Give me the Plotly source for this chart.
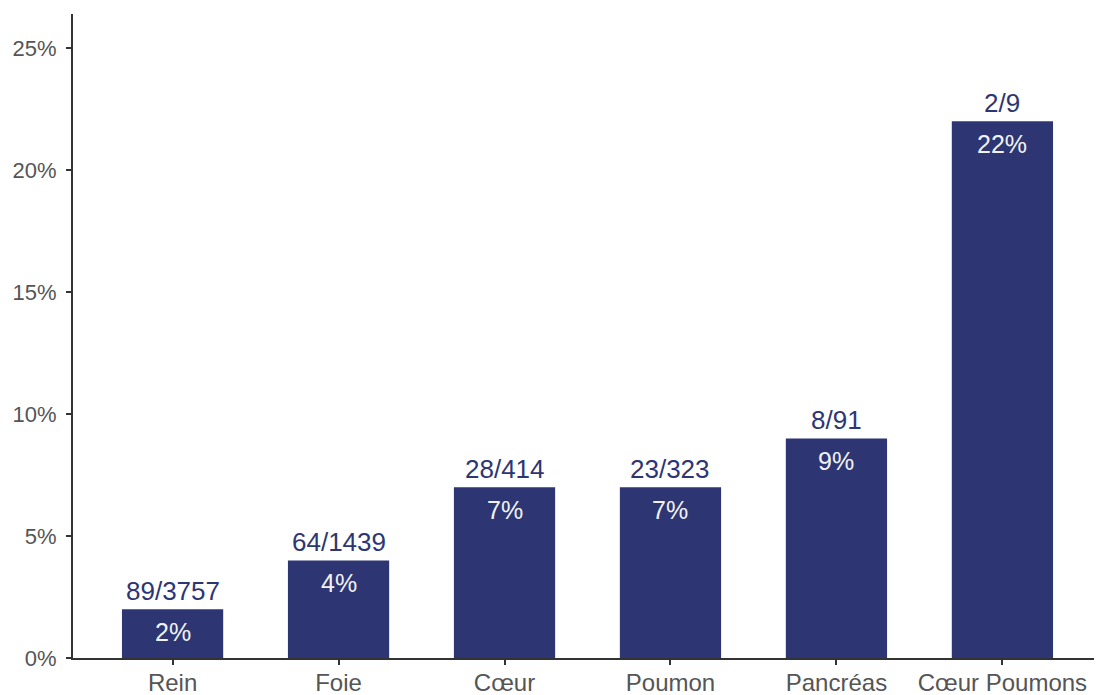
import plotly.graph_objects as go

categories = ["Rein", "Foie", "Cœur", "Poumon", "Pancréas", "Cœur Poumons"]
percent_values = [2, 4, 7, 7, 9, 22]
fraction_labels = ["89/3757", "64/1439", "28/414", "23/323", "8/91", "2/9"]
y_tick_values = [0, 5, 10, 15, 20, 25]
y_tick_labels = ["0%", "5%", "10%", "15%", "20%", "25%"]

bar_color = "#2d3673"
font_family = "Liberation Sans, Arial, sans-serif"

fig = go.Figure()
fig.add_trace(go.Bar(
    x=categories,
    y=percent_values,
    marker=dict(color=bar_color, line=dict(width=0)),
    width=0.61,
    hoverinfo="skip",
))

annotations = []
for cat, val, frac in zip(categories, percent_values, fraction_labels):
    annotations.append(dict(
        x=cat, y=val, text=frac, showarrow=False, xref="x", yref="y",
        yanchor="middle", yshift=18,
        font=dict(family=font_family, size=26, color="#2d3673"),
    ))
    annotations.append(dict(
        x=cat, y=val, text=f"{val}%", showarrow=False, xref="x", yref="y",
        yanchor="middle", yshift=-23,
        font=dict(family=font_family, size=25, color="#f2f2f2"),
    ))

# The page body has an 8px margin, so the figure is reduced by that amount
fig.update_layout(
    width=1094, height=687,
    margin=dict(l=65, r=0, t=6, b=37, autoexpand=False),
    plot_bgcolor="white", paper_bgcolor="white",
    showlegend=False,
    font=dict(family=font_family, size=22, color="#555555"),
    annotations=annotations,
    xaxis=dict(
        range=[-0.6, 5.6],
        showline=True, linecolor="#333333", linewidth=2,
        ticks="outside", ticklen=5, tickwidth=2, tickcolor="#333333",
        tickfont=dict(family=font_family, size=24, color="#555555"),
        ticklabelstandoff=-3,
        showgrid=False, zeroline=False, fixedrange=True, automargin=False,
    ),
    yaxis=dict(
        range=[0, 26.4],
        tickvals=y_tick_values, ticktext=y_tick_labels,
        showline=True, linecolor="#333333", linewidth=2,
        ticks="outside", ticklen=5, tickwidth=2, tickcolor="#333333",
        tickfont=dict(family=font_family, size=22, color="#555555"),
        ticklabelstandoff=5,
        showgrid=False, zeroline=False, fixedrange=True, automargin=False,
    ),
)

fig.write_html("out.html")
